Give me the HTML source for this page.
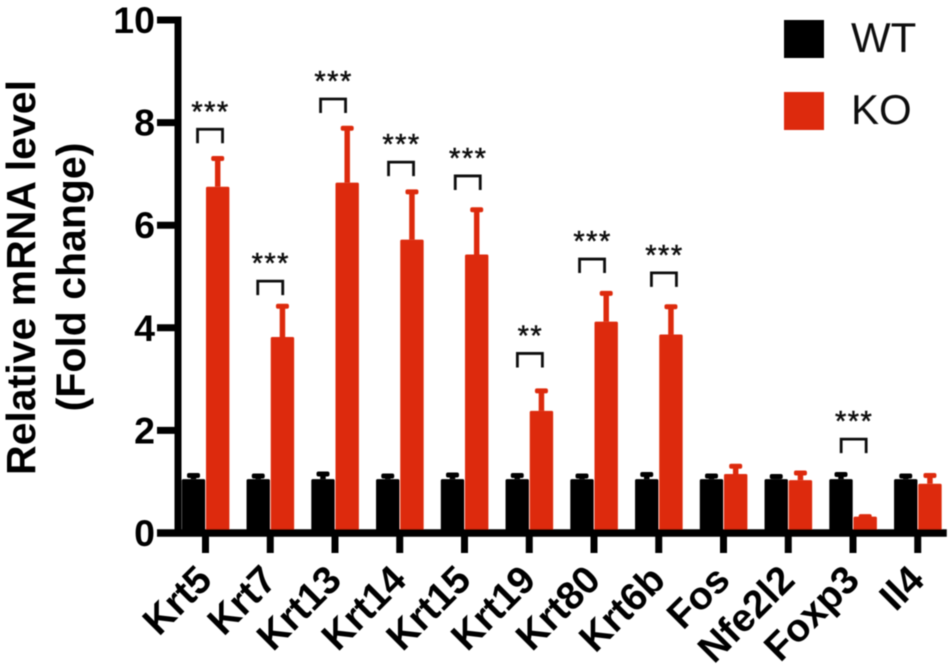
<!DOCTYPE html>
<html lang="en">
<head>
<meta charset="utf-8">
<title>Relative mRNA level</title>
<style>
html,body{margin:0;padding:0;background:#fff;}
svg{display:block;font-family:"Liberation Sans",sans-serif;}
</style>
</head>
<body>
<svg id="chart" width="952" height="664" viewBox="0 0 952 664" xmlns="http://www.w3.org/2000/svg">
<defs><filter id="soft" x="-5%" y="-5%" width="110%" height="110%"><feGaussianBlur stdDeviation="0.55"/></filter></defs>
<g id="root" filter="url(#soft)"></g>
</svg>
<script>
const categories = ['Krt5','Krt7','Krt13','Krt14','Krt15','Krt19','Krt80','Krt6b','Fos','Nfe2l2','Foxp3','Il4'];
const wtValues = [1.05,1.05,1.05,1.05,1.05,1.05,1.05,1.05,1.05,1.05,1.05,1.05];
const wtErrorTops = [1.13,1.12,1.16,1.12,1.14,1.13,1.12,1.15,1.12,1.11,1.15,1.12];
const koValues = [6.75,3.82,6.83,5.72,5.43,2.38,4.12,3.87,1.15,1.03,0.32,0.96];
const koErrorTops = [7.31,4.43,7.9,6.66,6.31,2.78,4.68,4.42,1.31,1.18,0.33,1.13];
const yTicks = [0,2,4,6,8,10];
const sigLabels = ['***','***','***','***','***','**','***','***','','','***',''];
const sigLevels = [7.87,4.91,8.46,7.23,6.96,3.5,5.34,5.07,null,null,1.83,null];
const sigShift = [0.07,0,-0.03,0.02,0.05,0.01,-0.03,0.08,0,0,0.01,0];
const legendLabels = ['WT','KO'];

const NS = 'http://www.w3.org/2000/svg';
const root = document.getElementById('root');
const BLACK = '#000', RED = '#dd2c0a';
const yScale = v => 533 - v * 51.3;
const xScale = i => 205.5 + i * 64.75;

function make(tag, attrs, text) {
  const el = document.createElementNS(NS, tag);
  for (const k in attrs) el.setAttribute(k, attrs[k]);
  if (text !== undefined) el.textContent = text;
  root.appendChild(el);
  return el;
}

function drawBar(cx, value, errTop, color, name) {
  const top = yScale(value), et = yScale(errTop);
  const err = make('path', {d: 'M' + cx + ' ' + top + 'V' + et, stroke: color, 'stroke-width': 5.5, fill: 'none'});
  
  
  const cap = make('rect', {x: cx - 6.5, y: et - 2, width: 13, height: 5, rx: 2, fill: color});
  
  
  const bar = make('rect', {x: cx - 11.7, y: top, width: 23.4, height: yScale(0) - top, rx: 1.5, fill: color});
  
  
}

categories.forEach((c, i) => {
  const key = c.toLowerCase();
  drawBar(xScale(i) - 12, wtValues[i], wtErrorTops[i], BLACK, 'bar-wt-' + key);
  drawBar(xScale(i) + 12.2, koValues[i], koErrorTops[i], RED, 'bar-ko-' + key);
});

// axes
const yAxis = make('path', {d: 'M178 ' + (yScale(10) - 3.5) + 'V' + (yScale(0) + 3.5), stroke: BLACK, 'stroke-width': 7, fill: 'none'});


const xAxis = make('path', {d: 'M157 ' + yScale(0) + 'H' + (xScale(11) + 29), stroke: BLACK, 'stroke-width': 7.5, fill: 'none'});



yTicks.forEach(t => {
  const y = yScale(t);
  const tick = make('path', {d: 'M157 ' + y + 'H178', stroke: BLACK, 'stroke-width': 7, fill: 'none'});
  
  
  const label = make('text', {x: 155, y: y + 13, 'text-anchor': 'end', 'font-size': 37.5, 'font-weight': 700, fill: BLACK}, String(t));
  
  
});

categories.forEach((c, i) => {
  const x = xScale(i), key = c.toLowerCase();
  const tick = make('path', {d: 'M' + x + ' ' + yScale(0) + 'V553', stroke: BLACK, 'stroke-width': 7, fill: 'none'});
  
  
  const lx = x + 8.5, ly = 582;
  const label = make('text', {x: lx, y: ly, 'text-anchor': 'end', 'font-size': 39, 'font-weight': 700, fill: BLACK, transform: 'rotate(-45 ' + lx + ' ' + ly + ')'}, c);
  
  
});

// significance brackets
categories.forEach((c, i) => {
  if (sigLevels[i] === null) return;
  const key = c.toLowerCase();
  const cx = xScale(i) + sigShift[i] * 64.75, y = yScale(sigLevels[i]);
  const br = make('path', {d: 'M' + (cx - 12.5) + ' ' + (y + 14) + 'V' + y + 'H' + (cx + 12.5) + 'V' + (y + 14), stroke: '#111', 'stroke-width': 2.8, fill: 'none'});
  
  
  const s = make('text', {x: cx + 0.5, y: y - 8, 'text-anchor': 'middle', 'font-size': 29, 'letter-spacing': '1.5', fill: '#111', stroke: '#111', 'stroke-width': 0.5}, sigLabels[i]);
  
  
});

// y title
const t1 = make('text', {x: 35, y: 277.5, 'text-anchor': 'middle', 'font-size': 41, 'font-weight': 700, fill: BLACK, transform: 'rotate(-90 35 277.5)'}, 'Relative mRNA level');


const t2 = make('text', {x: 85, y: 277, 'text-anchor': 'middle', 'font-size': 41, 'font-weight': 700, fill: BLACK, transform: 'rotate(-90 85 277)'}, '(Fold change)');



// legend
legendLabels.forEach((name, i) => {
  const top = 20 + i * 72;
  const sw = make('rect', {x: 784, y: top, width: 40, height: 38, fill: i === 0 ? BLACK : RED});
  
  
  const tx = make('text', {x: 851, y: top + 32, 'font-size': 42, fill: '#111'}, name);
  
  
});
</script>
</body>
</html>
